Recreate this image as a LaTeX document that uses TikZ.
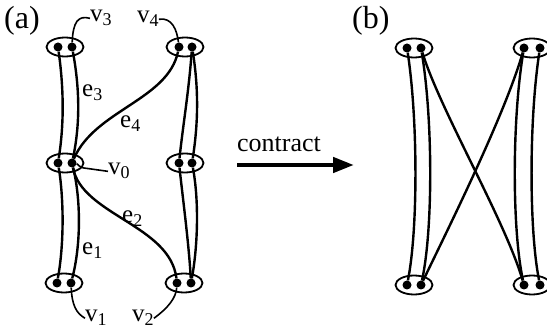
\documentclass[tikz,border=0pt]{standalone}
\usepackage{fontspec}
\setmainfont{Liberation Serif}
\usetikzlibrary{shapes.geometric,arrows.meta}
\newcommand{\lab}[2]{#1\raisebox{-4pt}{\fontsize{18}{18}\selectfont #2}}
\begin{document}
\begin{tikzpicture}[x=1pt,y=-1pt,
  edge/.style={line width=2.4pt},
  lead/.style={line width=1.6pt},
  dot/.style={circle,fill,inner sep=0pt,minimum size=9pt},
  grp/.style={ellipse,draw,line width=1.8pt,inner sep=0pt,minimum width=37pt,minimum height=19pt},
  lbl/.style={font=\fontsize{25}{25}\selectfont,inner sep=0pt,anchor=base west},
  plab/.style={font=\fontsize{32}{32}\selectfont,inner sep=0pt,anchor=base west}]
\useasboundingbox (0,0) rectangle (547,331);
% ---------------- panel (a) ----------------
\node[plab] (pa) at (4,29) {(a)};
\node[grp] (G3) at (65,47) {};
\node[grp] (G4) at (185,47) {};
\node[grp] (G0) at (65,163) {};
\node[grp] (GM) at (185,163) {};
\node[grp] (G1) at (64,283) {};
\node[grp] (G2) at (184,283) {};
\node[dot] (A3L) at (58,47) {};
\node[dot] (A3R) at (72,47) {};
\node[dot] (A4L) at (179,47) {};
\node[dot] (A4R) at (192,47) {};
\node[dot] (A0L) at (58,163) {};
\node[dot] (A0R) at (72,163) {};
\node[dot] (AML) at (179,163) {};
\node[dot] (AMR) at (192,163) {};
\node[dot] (A1L) at (57,283) {};
\node[dot] (A1R) at (71,283) {};
\node[dot] (A2L) at (177,283) {};
\node[dot] (A2R) at (191,283) {};
\draw[edge] (A3L) .. controls (64,90) and (64,125) .. (A0L);
\draw[edge] (A3R) .. controls (80,90) and (80,125) .. (A0R);
\draw[edge] (A0L) .. controls (64,200) and (64,245) .. (A1L);
\draw[edge] (A0R) .. controls (81,200) and (81,245) .. (A1R);
\draw[edge] (A0R) .. controls (95,110) and (168,100) .. (A4L);
\draw[edge] (A0R) .. controls (82,215) and (170,225) .. (A2L);
\draw[edge] (A4R) .. controls (189,90) and (183,125) .. (AML);
\draw[edge] (A4R) .. controls (199,90) and (198,125) .. (AMR);
\draw[edge] (AML) .. controls (183,200) and (189,245) .. (A2R);
\draw[edge] (AMR) .. controls (199,200) and (198,245) .. (A2R);
% edge labels
\node[lbl] (e3) at (82,97) {\lab{e}{3}};
\node[lbl] (e4) at (120,128) {\lab{e}{4}};
\node[lbl] (e2) at (122,223) {\lab{e}{2}};
\node[lbl] (e1) at (82,255) {\lab{e}{1}};
% vertex labels
\node[lbl] (v3) at (90,22) {\lab{v}{3}};
\node[lbl] (v4) at (137,23) {\lab{v}{4}};
\node[lbl] (v0) at (108,175) {\lab{v}{0}};
\node[lbl] (v1) at (85,322) {\lab{v}{1}};
\node[lbl] (v2) at (132,322) {\lab{v}{2}};
\draw[lead] (A3R) .. controls (73,22) and (78,15) .. (v3.west);
\draw[lead] (v4.east) .. controls (172,17) and (177,30) .. (A4L);
\draw[lead] (A0R) .. controls (78,164) and (80,168) .. (84,168) -- (v0.west);
\draw[lead] (A1R) .. controls (72,305) and (76,313) .. (v1.west);
\draw[lead] (v2.east) .. controls (168,308) and (176,298) .. (A2L);
% ---------------- arrow ----------------
\node[font=\fontsize{26}{26}\selectfont,inner sep=0pt,anchor=base west] (ct) at (237,152) {contract};
\coordinate (c1) at (237,165);
\coordinate (c2) at (354,165);
\draw[line width=4.5pt,-{Triangle[length=21pt,width=15pt]}] (c1) -- (c2);
% ---------------- panel (b) ----------------
\node[plab] (pb) at (352,29) {(b)};
\node[grp] (H1) at (414,48) {};
\node[grp] (H2) at (532,48) {};
\node[grp] (H3) at (414,285) {};
\node[grp] (H4) at (532,285) {};
\node[dot] (B1L) at (407,48) {};
\node[dot] (B1R) at (421,48) {};
\node[dot] (B2L) at (524,48) {};
\node[dot] (B2R) at (540,48) {};
\node[dot] (B3L) at (407,285) {};
\node[dot] (B3R) at (421,285) {};
\node[dot] (B4L) at (524,285) {};
\node[dot] (B4R) at (540,285) {};
\draw[edge] (B1L) .. controls (418,120) and (418,230) .. (B3L);
\draw[edge] (B1R) .. controls (433,120) and (433,230) .. (B3R);
\draw[edge] (B2L) .. controls (512,120) and (512,230) .. (B4L);
\draw[edge] (B2R) .. controls (529,120) and (529,230) .. (B4R);
\draw[edge] (B1R) .. controls (440,110) and (505,220) .. (B4L);
\draw[edge] (B3R) .. controls (445,235) and (505,115) .. (B2L);
\end{tikzpicture}
\end{document}
